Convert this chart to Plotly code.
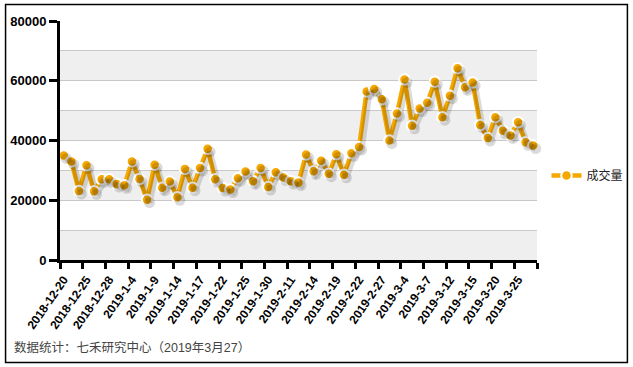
import plotly.graph_objects as go

dates = ["2018-12-20", "2018-12-21", "2018-12-24", "2018-12-25", "2018-12-26", "2018-12-27",
         "2018-12-28", "2019-1-2", "2019-1-3", "2019-1-4", "2019-1-7", "2019-1-8",
         "2019-1-9", "2019-1-10", "2019-1-11", "2019-1-14", "2019-1-15", "2019-1-16",
         "2019-1-17", "2019-1-18", "2019-1-21", "2019-1-22", "2019-1-23", "2019-1-24",
         "2019-1-25", "2019-1-28", "2019-1-29", "2019-1-30", "2019-1-31", "2019-2-1",
         "2019-2-11", "2019-2-12", "2019-2-13", "2019-2-14", "2019-2-15", "2019-2-18",
         "2019-2-19", "2019-2-20", "2019-2-21", "2019-2-22", "2019-2-25", "2019-2-26",
         "2019-2-27", "2019-2-28", "2019-3-1", "2019-3-4", "2019-3-5", "2019-3-6",
         "2019-3-7", "2019-3-8", "2019-3-11", "2019-3-12", "2019-3-13", "2019-3-14",
         "2019-3-15", "2019-3-18", "2019-3-19", "2019-3-20", "2019-3-21", "2019-3-22",
         "2019-3-25", "2019-3-26", "2019-3-27"]

volume = [35000, 33000, 23100, 31700, 23000, 27000, 27000, 25400, 25000, 33000,
          27100, 20200, 31900, 24200, 26300, 21000, 30500, 24200, 30800, 37200,
          27000, 24100, 23600, 27400, 29600, 26400, 30800, 24400, 29400, 27600,
          26400, 25900, 35300, 29700, 33200, 28900, 35400, 28500, 35700, 37800,
          56400, 57200, 53800, 40000, 49000, 60400, 44900, 50700, 52600, 59700,
          47800, 55000, 64200, 57800, 59400, 45200, 40800, 47800, 43300, 41700,
          46100, 39400, 38300]

series_name = "成交量"
footnote = "数据统计：七禾研究中心（2019年3月27）"

ORANGE = "#F5A800"
n = len(dates)

L, T, W, H = 60, 21, 477.5, 239
FIG_W, FIG_H = 633, 367


def px(xs):
    return (xs - L) / W


def py(ys):
    return (T + H - ys) / H


px_per_cat = W / n
sx = 2.5 / px_per_cat
sy = 3.0 * 80000 / H

fig = go.Figure()

# drop shadow (same data, drawn on slightly offset overlay axes)
fig.add_trace(go.Scatter(
    x=dates, y=volume, mode="lines+markers", xaxis="x2", yaxis="y2",
    line=dict(color="rgba(0,0,0,0.14)", width=6),
    marker=dict(size=11, color="rgba(0,0,0,0.14)"),
    hoverinfo="skip", showlegend=False, cliponaxis=False))

fig.add_trace(go.Scatter(
    x=dates, y=volume, mode="lines+markers", name=series_name,
    line=dict(color=ORANGE, width=4.5),
    marker=dict(size=10.5, color=ORANGE, line=dict(color="white", width=2)),
    cliponaxis=False))

shapes = []
for lo in (0, 20000, 40000, 60000):
    shapes.append(dict(type="rect", xref="paper", yref="y", x0=0, x1=1, y0=lo, y1=lo + 10000,
                       fillcolor="#EFEFEF", line=dict(width=0), layer="below"))
# outer border
shapes.append(dict(type="rect", xref="paper", yref="paper",
                   x0=px(5.5), x1=px(628), y0=py(362.5), y1=py(4.5),
                   line=dict(color="black", width=1.5), fillcolor="rgba(0,0,0,0)",
                   layer="above"))

fig.update_layout(
    width=FIG_W, height=FIG_H,
    margin=dict(l=L, r=FIG_W - L - W, t=T, b=FIG_H - T - H, autoexpand=False),
    paper_bgcolor="white", plot_bgcolor="white",
    font=dict(family="Arial, Liberation Sans, Noto Sans CJK SC", color="black"),
    shapes=shapes,
    xaxis=dict(type="category", categoryorder="array", categoryarray=dates,
               range=[-0.5, n - 0.5], tickmode="linear", tick0=0, dtick=3,
               tickson="boundaries", ticks="outside", ticklen=6, tickwidth=3, tickcolor="black",
               showline=True, linewidth=3, linecolor="black", showgrid=False,
               tickangle=-55, automargin=False, ticklabelstandoff=5,
               tickfont=dict(size=12, family="Liberation Sans", weight="bold")),
    yaxis=dict(range=[0, 80000], tickmode="linear", tick0=0, dtick=20000,
               tickformat="d", automargin=False,
               ticks="outside", ticklen=8, tickwidth=3, tickcolor="black",
               showline=True, linewidth=3, linecolor="black", zeroline=False,
               showgrid=True, gridcolor="#C8C8C8", gridwidth=1,
               minor=dict(dtick=10000, showgrid=True, gridcolor="#C8C8C8", gridwidth=1),
               tickfont=dict(size=13, family="Liberation Sans", weight="bold")),
    xaxis2=dict(type="category", categoryorder="array", categoryarray=dates,
                overlaying="x", range=[-0.5 - sx, n - 0.5 - sx], visible=False),
    yaxis2=dict(overlaying="y", range=[sy, 80000 + sy], visible=False),
    legend=dict(x=px(547), y=py(175.5), xanchor="left", yanchor="middle",
                font=dict(size=12, family="Noto Sans CJK SC", color="#222"),
                itemwidth=30, bgcolor="rgba(0,0,0,0)"),
    annotations=[dict(text=footnote, xref="paper", yref="paper",
                      x=px(12), y=py(347.5), xanchor="left", yanchor="middle",
                      showarrow=False,
                      font=dict(size=12.5, family="Liberation Sans, Noto Sans CJK SC", color="#444"))],
)

fig.write_html("out.html", config={"displayModeBar": False},
               post_script="document.body.style.margin='0';document.body.style.overflow='hidden';")
